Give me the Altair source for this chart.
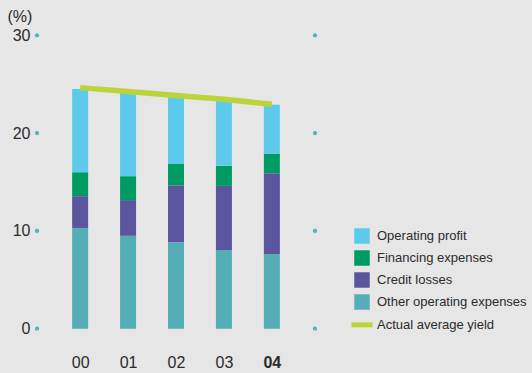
import altair as alt
import pandas as pd

years = ["00", "01", "02", "03", "04"]
other_opex = [10.3, 9.5, 8.85, 8.05, 7.65]
credit_losses = [3.25, 3.65, 5.8, 6.55, 8.25]
financing = [2.45, 2.45, 2.2, 2.05, 2.0]
operating_profit = [8.5, 8.6, 6.95, 6.75, 5.0]
avg_yield = [24.65, 24.25, 23.85, 23.45, 22.95]

series_names = ["Operating profit", "Financing expenses", "Credit losses", "Other operating expenses"]
series_colors = ["#5ccbeb", "#009a63", "#5a559c", "#55adb8"]
yield_label = "Actual average yield"
yield_color = "#bcd43a"
text_color = "#2b2b2b"
font = "Liberation Sans"

x_min, x_max = -0.9, 4.9
y_ticks = [0, 10, 20, 30]

rows = []
for i, y in enumerate(years):
    for name, vals, order in [("Other operating expenses", other_opex, 0),
                              ("Credit losses", credit_losses, 1),
                              ("Financing expenses", financing, 2),
                              ("Operating profit", operating_profit, 3)]:
        rows.append({"idx": i, "year": y, "series": name, "value": vals[i], "ord": order})
bars_df = pd.DataFrame(rows)

line_df = pd.DataFrame({"idx": list(range(len(years))), "value": avg_yield, "label": yield_label})

dots_df = pd.DataFrame([{"idx": xe, "value": t} for xe in (x_min, x_max) for t in y_ticks])

label_expr = "[" + ",".join("'" + y + "'" for y in years) + "][datum.value]"

x_scale = alt.Scale(domain=[x_min, x_max], nice=False, zero=False, padding=0)
y_scale = alt.Scale(domain=[0, 30], nice=False, padding=0)

x_axis = alt.Axis(values=list(range(len(years))), labelExpr=label_expr, title=None,
                  domain=False, ticks=False, grid=False, labelFontSize=16,
                  labelColor=text_color, labelFont=font, labelPadding=26,
                  labelFontWeight={"condition": {"test": "datum.value == 4", "value": "bold"}, "value": "normal"})
y_axis = alt.Axis(values=y_ticks, title="(%)", titleAngle=0, titleAlign="left",
                  titleBaseline="middle", titleX=-30, titleY=-19, titleFontSize=16,
                  titleFontWeight="normal", titleColor=text_color, titleFont=font,
                  domain=False, ticks=False, grid=False, labelFontSize=16,
                  labelColor=text_color, labelFont=font, labelPadding=7)

bars = alt.Chart(bars_df).mark_bar(size=16).encode(
    x=alt.X("idx:Q", scale=x_scale, axis=x_axis),
    y=alt.Y("value:Q", stack="zero", scale=y_scale, axis=y_axis),
    color=alt.Color("series:N", scale=alt.Scale(domain=series_names, range=series_colors),
                    legend=alt.Legend(title=None, orient="none", legendX=317, legendY=192.7,
                                      symbolType="square", symbolSize=240, symbolStrokeWidth=0,
                                      labelFontSize=13, labelColor=text_color, labelFont=font,
                                      labelOffset=7, rowPadding=6, padding=0)),
    order=alt.Order("ord:Q"),
)

line = alt.Chart(line_df).mark_line(strokeWidth=5.5, strokeCap="butt").encode(
    x=alt.X("idx:Q", scale=x_scale, axis=x_axis),
    y=alt.Y("value:Q", scale=y_scale, axis=y_axis),
    stroke=alt.Stroke("label:N", scale=alt.Scale(domain=[yield_label], range=[yield_color]),
                      legend=alt.Legend(title=None, orient="none", legendX=312, legendY=276.5,
                                        symbolType="stroke", symbolSize=441, symbolStrokeWidth=5,
                                        labelFontSize=13, labelColor=text_color, labelFont=font,
                                        labelOffset=2, padding=0)),
)

dots = alt.Chart(dots_df).mark_circle(size=18, opacity=1, color="#4fb3ba", clip=False).encode(
    x=alt.X("idx:Q", scale=x_scale, axis=x_axis),
    y=alt.Y("value:Q", scale=y_scale, axis=y_axis),
)

chart = alt.layer(bars, line, dots).properties(
    width=278, height=293.4,
    autosize=alt.AutoSizeParams(type="none"),
    padding={"left": 37, "top": 35.3, "right": 217, "bottom": 44.3},
    background="#e6e6e6",
).configure_view(stroke=None)

chart.save("out.html", embed_options={"renderer": "svg", "actions": False})
